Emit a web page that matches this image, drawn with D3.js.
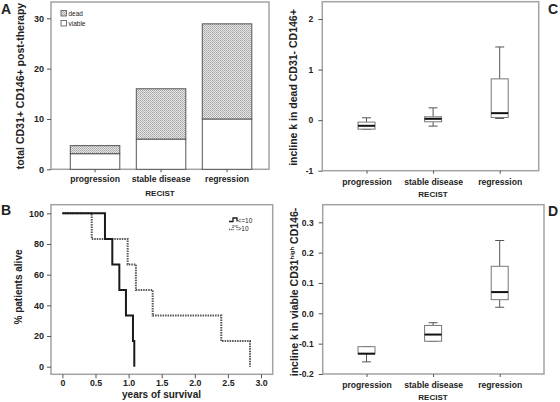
<!DOCTYPE html>
<html><head><meta charset="utf-8">
<script src="https://cdn.jsdelivr.net/npm/d3@7"></script>
<style>
html,body{margin:0;padding:0;background:#fff;}
svg{display:block;font-family:"Liberation Sans",Arial,sans-serif;font-weight:bold;}
</style></head>
<body><svg id="c" width="560" height="402"></svg>
<script>
// ---------- data ----------
const categories = ["progression", "stable disease", "regression"];
// Panel A: stacked counts
const viableCounts = [3.1, 6, 10];
const deadCounts = [1.6, 10, 18.9];
const ticksA = [0, 10, 20, 30];
// Panel B: Kaplan-Meier (years, % alive)
const survTimesLow = [0, 0.643, 0.754, 0.86, 0.96, 1.066, 1.086];
const survPctLow = [100, 83.3, 66.7, 50, 33.3, 16.7, 0];
const survTimesHigh = [0, 0.443, 0.986, 1.11, 1.364, 2.40, 2.834];
const survPctHigh = [100, 83.3, 66.7, 50, 33.3, 16.7, 0];
const ticksBx = [0, 0.5, 1.0, 1.5, 2.0, 2.5, 3.0];
const ticksBy = [0, 20, 40, 60, 80, 100];
// Panel C: box stats
const boxLowC = [-0.18, -0.118, 0.033];
const boxQ1C = [-0.178, -0.033, 0.053];
const boxMedC = [-0.112, 0.026, 0.138];
const boxQ3C = [-0.039, 0.066, 0.816];
const boxHighC = [0.046, 0.243, 1.447];
const ticksC = [-1, 0, 1, 2];
// Panel D
const boxLowD = [-0.16, -0.092, 0.02];
const boxQ1D = [-0.133, -0.092, 0.045];
const boxMedD = [-0.133, -0.07, 0.07];
const boxQ3D = [-0.11, -0.04, 0.155];
const boxHighD = [-0.11, -0.031, 0.24];
const ticksD = [-0.2, -0.1, 0.0, 0.1, 0.2, 0.3];

const svg = d3.select("#c");
const FRAME = "#a3a3a3", INK = "#555";

// pattern for "dead"
const defs = svg.append("defs");
const pat = defs.append("pattern").attr("id","dots").attr("width",2).attr("height",2).attr("patternUnits","userSpaceOnUse");
pat.append("rect").attr("width",2).attr("height",2).attr("fill","#e4e4e4");
pat.append("rect").attr("width",1).attr("height",1).attr("fill","#a8a8a8");
pat.append("rect").attr("x",1).attr("y",1).attr("width",1).attr("height",1).attr("fill","#b8b8b8");

function frame(x0,y0,x1,y1){
  svg.append("rect").attr("x",x0).attr("y",y0).attr("width",x1-x0).attr("height",y1-y0)
    .attr("fill","none").attr("stroke",FRAME).attr("stroke-width",1.5);
}
function styleAxis(g, fs){
  g.select(".domain").remove();
  g.selectAll(".tick line").attr("stroke",INK);
  g.selectAll(".tick text").attr("fill","#222").style("font-size",fs+"px").style("font-weight","bold")
   .style("font-family","'Liberation Sans',Arial,sans-serif");
}
function text(x,y,s,fs,anchor,rot){
  const t = svg.append("text").attr("font-size",fs).attr("fill","#222").attr("text-anchor",anchor||"middle");
  if(rot){ t.attr("transform",`translate(${x},${y}) rotate(-90)`); } else { t.attr("x",x).attr("y",y); }
  t.text(s); return t;
}

// ---------- Panel A ----------
{
  const x0=51,x1=269,y0=2,y1=169.3;
  frame(x0,y0,x1,y1);
  const x = d3.scaleBand().domain(categories).range([62.05,260.05]).paddingInner(0.25).paddingOuter(0.125);
  const y = d3.scaleLinear().domain([0,30]).range([169.3,18.3]);
  const rows = categories.map((c,i)=>({c, v:viableCounts[i], d:deadCounts[i]}));
  svg.append("g").selectAll("rect").data(rows).join("rect")
    .attr("x",d=>x(d.c)).attr("width",x.bandwidth())
    .attr("y",d=>y(d.v)).attr("height",d=>y(0)-y(d.v))
    .attr("fill","#fff").attr("stroke",INK).attr("stroke-width",1);
  svg.append("g").selectAll("rect").data(rows).join("rect")
    .attr("x",d=>x(d.c)).attr("width",x.bandwidth())
    .attr("y",d=>y(d.v+d.d)).attr("height",d=>y(d.v)-y(d.v+d.d))
    .attr("fill","url(#dots)").attr("stroke",INK).attr("stroke-width",1);
  const ga = svg.append("g").attr("transform",`translate(${x0},0)`).call(d3.axisLeft(y).tickValues(ticksA).tickSize(4).tickPadding(3));
  styleAxis(ga,9);
  const gb = svg.append("g").attr("transform",`translate(0,${y1})`).call(d3.axisBottom(x).tickSize(3).tickPadding(4));
  styleAxis(gb,8.6);
  text(160,195.5,"RECIST",8);
  text(24,86,"total CD31+ CD146+ post-therapy",10.5,"middle",true);
  text(1,13.5,"A",14,"start");
  // legend
  svg.append("rect").attr("x",61).attr("y",10.5).attr("width",5.5).attr("height",5.5).attr("fill","url(#dots)").attr("stroke",INK).attr("stroke-width",0.8);
  svg.append("rect").attr("x",61).attr("y",20.5).attr("width",5.5).attr("height",5.5).attr("fill","#fff").attr("stroke",INK).attr("stroke-width",0.8);
  text(68.5,16,"dead",6.5,"start").attr("font-weight","normal");
  text(68.5,26,"viable",6.5,"start").attr("font-weight","normal");
}

// ---------- Panel B ----------
{
  const x0=51,x1=272.7,y0=204.7,y1=374.3;
  frame(x0,y0,x1,y1);
  const x = d3.scaleLinear().domain([0,3]).range([62.4,261]);
  const y = d3.scaleLinear().domain([0,100]).range([366.7,213.3]);
  const line = d3.line().x(d=>x(d[0])).y(d=>y(d[1])).curve(d3.curveStepAfter);
  const low = survTimesLow.map((t,i)=>[t,survPctLow[i]]);
  const high = survTimesHigh.map((t,i)=>[t,survPctHigh[i]]);
  svg.append("path").attr("d",line(high)).attr("fill","none").attr("stroke","#555").attr("stroke-width",2).attr("stroke-dasharray","1.5,1");
  svg.append("path").attr("d",line(low)).attr("fill","none").attr("stroke","#1a1a1a").attr("stroke-width",2);
  const ga = svg.append("g").attr("transform",`translate(${x0},0)`).call(d3.axisLeft(y).tickValues(ticksBy).tickSize(4).tickPadding(3));
  styleAxis(ga,9);
  const gb = svg.append("g").attr("transform",`translate(0,${y1})`).call(d3.axisBottom(x).tickValues(ticksBx).tickFormat(d=>d===0?"0":d.toFixed(1)).tickSize(4).tickPadding(1));
  styleAxis(gb,8.8);
  text(161.5,397.5,"years of survival",10,"middle");
  text(22,287,"% patients alive",10,"middle",true);
  text(1,215,"B",14,"start");
  // legend
  svg.append("path").attr("d","M229,221.5 h4 v-3.5 h4 v3.5").attr("fill","none").attr("stroke","#1a1a1a").attr("stroke-width",1.3);
  svg.append("path").attr("d","M229,229.5 h4 v-3.5 h4 v3.5").attr("fill","none").attr("stroke","#555").attr("stroke-width",1.3).attr("stroke-dasharray","1,0.8");
  text(237.5,223,"<=10",6.5,"start").attr("font-weight","normal");
  text(237.5,231,">10",6.5,"start").attr("font-weight","normal");
}

// ---------- box panels ----------
function boxPanel(opt){
  const {x0,x1,y0,y1,dom,range,ticks,fmt,low,q1,med,q3,high} = opt;
  frame(x0,y0,x1,y1);
  const x = d3.scalePoint().domain(categories).range([366.5,499.7]);
  const y = d3.scaleLinear().domain(dom).range(range);
  const rows = categories.map((c,i)=>({c,lo:low[i],q1:q1[i],md:med[i],q3:q3[i],hi:high[i]}));
  const bw=17, cw=9;
  const g = svg.append("g");
  const b = g.selectAll("g").data(rows).join("g");
  b.append("line").attr("x1",d=>x(d.c)).attr("x2",d=>x(d.c)).attr("y1",d=>y(d.q3)).attr("y2",d=>y(d.hi)).attr("stroke",INK);
  b.append("line").attr("x1",d=>x(d.c)).attr("x2",d=>x(d.c)).attr("y1",d=>y(d.q1)).attr("y2",d=>y(d.lo)).attr("stroke",INK);
  b.append("line").attr("x1",d=>x(d.c)-cw/2).attr("x2",d=>x(d.c)+cw/2).attr("y1",d=>y(d.hi)).attr("y2",d=>y(d.hi)).attr("stroke",INK);
  b.append("line").attr("x1",d=>x(d.c)-cw/2).attr("x2",d=>x(d.c)+cw/2).attr("y1",d=>y(d.lo)).attr("y2",d=>y(d.lo)).attr("stroke",INK);
  b.append("rect").attr("x",d=>x(d.c)-bw/2).attr("width",bw).attr("y",d=>y(d.q3)).attr("height",d=>Math.max(0.5,y(d.q1)-y(d.q3)))
    .attr("fill","#fff").attr("stroke","#777").attr("stroke-width",1);
  b.append("line").attr("x1",d=>x(d.c)-bw/2).attr("x2",d=>x(d.c)+bw/2).attr("y1",d=>y(d.md)).attr("y2",d=>y(d.md)).attr("stroke","#111").attr("stroke-width",2);
  const ga = svg.append("g").attr("transform",`translate(${x0},0)`).call(d3.axisLeft(y).tickValues(ticks).tickFormat(fmt).tickSize(4).tickPadding(5));
  styleAxis(ga,8.5);
  const gb = svg.append("g").attr("transform",`translate(0,${y1})`).call(d3.axisBottom(x).tickSize(3).tickPadding(5));
  styleAxis(gb,8.6);
  return {x,y};
}
boxPanel({x0:322.3,x1:538.7,y0:1.7,y1:170.7,dom:[-1,2],range:[170.7,19],ticks:ticksC,fmt:d=>String(d),
  low:boxLowC,q1:boxQ1C,med:boxMedC,q3:boxQ3C,high:boxHighC});
text(433,197,"RECIST",8);
text(296.5,87.5,"incline k in dead CD31- CD146+",10.5,"middle",true);
text(548,13.5,"C",14,"start");

boxPanel({x0:322.7,x1:544,y0:204.7,y1:374,dom:[-0.2,0.3],range:[374,222.3],ticks:ticksD,fmt:d=>d.toFixed(1),
  low:boxLowD,q1:boxQ1D,med:boxMedD,q3:boxQ3D,high:boxHighD});
text(433,399.5,"RECIST",8);
{
  const t = svg.append("text").attr("font-size",10.5).attr("fill","#222").attr("text-anchor","middle")
    .attr("transform","translate(297.5,292) rotate(-90)");
  t.append("tspan").text("incline k in viable CD31");
  t.append("tspan").attr("font-size",6).attr("dy",-4).text("high");
  t.append("tspan").attr("dy",4).text(" CD146-");
}
text(548,215.5,"D",14,"start");
</script>
</body></html>
